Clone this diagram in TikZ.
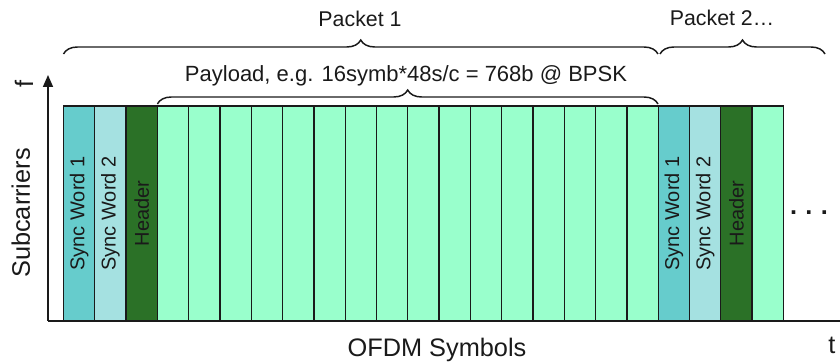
\documentclass[tikz,border=0pt]{standalone}
\usepackage{fontspec}
\setmainfont{Liberation Sans}
\usetikzlibrary{arrows.meta,decorations.pathreplacing}
\definecolor{syncA}{HTML}{66CCCC}
\definecolor{syncB}{HTML}{A5E1E1}
\definecolor{hdr}{HTML}{2B7127}
\definecolor{pay}{HTML}{99FFCC}
\definecolor{ink}{HTML}{1A1A1A}
\begin{document}
\begin{tikzpicture}[x=0.75pt,y=-0.75pt,
  blk/.style={draw=ink,line width=1pt,minimum width=23.475pt,minimum height=161.25pt,
    inner sep=0pt,outer sep=0pt,anchor=north west},
  A/.style={blk,fill=syncA},
  B/.style={blk,fill=syncB},
  H/.style={blk,fill=hdr},
  P/.style={blk,fill=pay},
  blabel/.style={rotate=90,font=\fontsize{15}{15}\selectfont,text=ink},
  toplabel/.style={anchor=base,font=\fontsize{16}{16}\selectfont,text=ink},
  axlabel/.style={anchor=base,font=\fontsize{19}{19}\selectfont,text=ink},
  axisline/.style={draw=ink,line width=1.2pt},
  bracestyle/.style={draw=ink,line width=1.1pt,decorate,
    decoration={brace,amplitude=10.5pt}}
]
\useasboundingbox (0,0) rectangle (840,363);

% blocks
\foreach \t [count=\i from 0] in {A,B,H,P,P,P,P,P,P,P,P,P,P,P,P,P,P,P,P,A,B,H,P}{
  \node[\t] (b\i) at ({63.5+31.3*\i},106) {};
}

% block labels
\node[blabel] at (b0) {Sync Word 1};
\node[blabel] at (b1) {Sync Word 2};
\node[blabel] at (b2) {Header};
\node[blabel] at (b19) {Sync Word 1};
\node[blabel] at (b20) {Sync Word 2};
\node[blabel] at (b21) {Header};

% axes
\coordinate (O) at (48,321);
\coordinate (ftip) at (48,75);
\coordinate (tend) at (840,321);
\draw[axisline,-{Triangle[width=7.5pt,length=9pt]}] (O) -- (ftip);
\draw[axisline] (O) -- (tend);

% axis labels
\node[axlabel,rotate=90] (f) at (33,84) {f};
\node[axlabel,rotate=90] (sub) at (30,213) {Subcarriers};
\node[axlabel] (t) at (832,354) {t};
\node[axlabel] (ofdm) at (437,357) {OFDM Symbols};

% ellipsis
\node[anchor=base,font=\fontsize{19}{19}\selectfont\bfseries,text=ink] (dots) at (809,215)
  {.\hspace{6.3pt}.\hspace{6.3pt}.};

% braces
\coordinate (p1l) at (63.5,54);
\coordinate (p1r) at (658,54);
\coordinate (p2l) at (660,54);
\coordinate (p2r) at (825,54);
\coordinate (pl) at (157.4,104);
\coordinate (pr) at (658,104);
\draw[bracestyle] (p1l) -- (p1r);
\draw[bracestyle] (p2l) -- (p2r);
\draw[bracestyle] (pl) -- (pr);

% top labels
\node[toplabel] (pk1) at (360,27) {Packet 1};
\node[toplabel] (pk2) at (722,26) {Packet 2\ldots};
\node[toplabel,font=\fontsize{16.5}{16.5}\selectfont] (payload) at (406,82) {Payload, e.g. 16symb*48s/c = 768b @ BPSK};
\end{tikzpicture}
\end{document}
